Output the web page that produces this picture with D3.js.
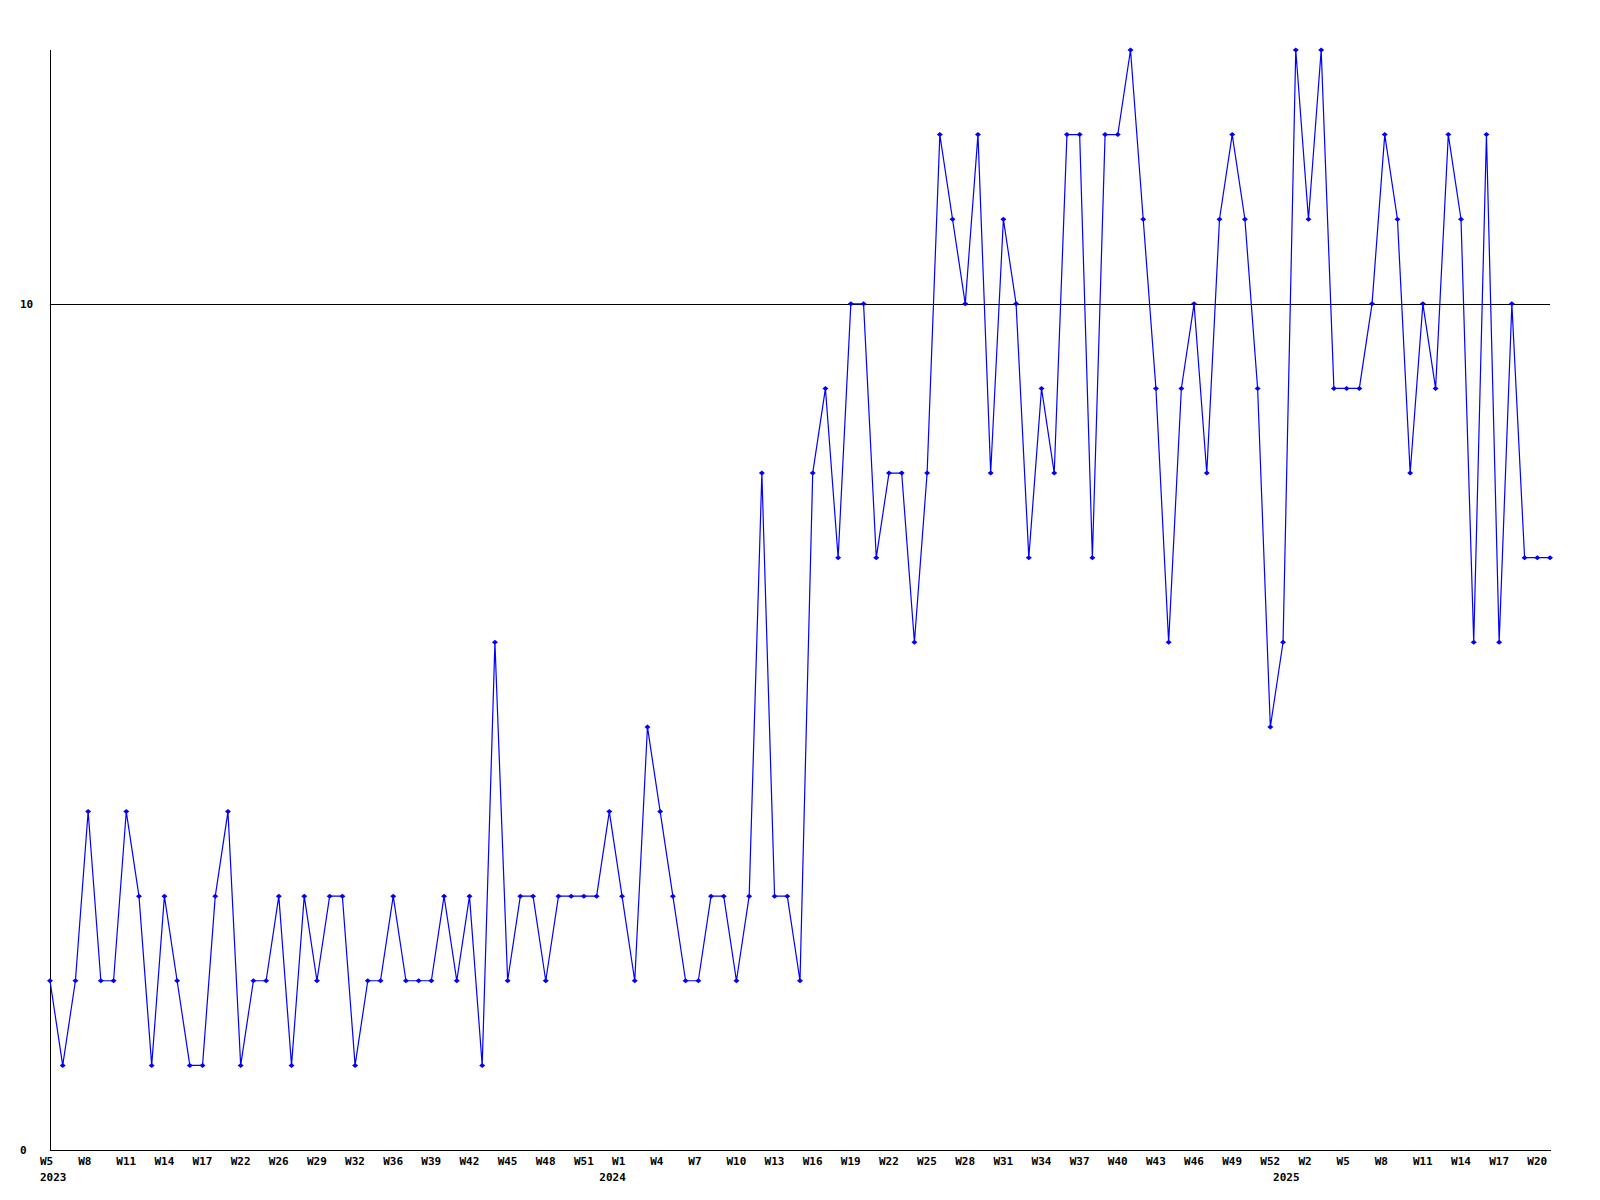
<!DOCTYPE html>
<html>
<head>
<meta charset="utf-8">
<script src="https://cdn.jsdelivr.net/npm/d3@7"></script>
<style>
  html, body { margin: 0; padding: 0; background: #fff; }
  svg { display: block; }
  text { font-family: "DejaVu Sans Mono", "Liberation Mono", monospace; font-weight: bold; font-size: 11px; fill: #000; }
</style>
</head>
<body>
<svg id="chart" width="1600" height="1200"></svg>
<script>
// ---- data ----
const values = [
  2,1,2,4,2,2,4,3,1,3,2,1,1,3,4,1,2,2,3,1,
  3,2,3,3,1,2,2,3,2,2,2,3,2,3,1,6,2,3,3,2,
  3,3,3,3,4,3,2,5,4,3,2,2,3,3,2,3,8,3,3,2,
  8,9,7,10,10,7,8,8,6,8,12,11,10,12,8,11,10,7,9,8,
  12,12,7,12,12,13,11,9,6,9,10,8,11,12,11,9,5,6,13,11,
  13,9,9,9,10,12,11,8,10,9,12,11,6,12,6,10,7,7,7
];
// labels shown under every third point
const tickLabels = [
  "W5","W8","W11","W14","W17","W22","W26","W29","W32","W36",
  "W39","W42","W45","W48","W51","W1","W4","W7","W10","W13",
  "W16","W19","W22","W25","W28","W31","W34","W37","W40","W43",
  "W46","W49","W52","W2","W5","W8","W11","W14","W17","W20"
];
const years = ["2023","2024","2025"];
const yearStartIndex = [0, 44, 97];
const yTicks = [0, 10];
const yMax = 13;

(function () {
  const svg = d3.select("#chart");
  const pl = 50, pr = 1550, pt = 50, pb = 1150;

  const idx = d3.range(values.length);
  const x = d3.scalePoint().domain(idx).range([pl, pr]);
  const y = d3.scaleLinear().domain([0, yMax]).range([pb, pt]);

  // gridline at 10
  svg.append("g").selectAll("line").data(yTicks.filter(d => d !== 0)).join("line")
    .attr("x1", pl).attr("x2", pr)
    .attr("y1", d => Math.round(y(d)) + 0.5).attr("y2", d => Math.round(y(d)) + 0.5)
    .attr("stroke", "#000").attr("stroke-width", 1).attr("shape-rendering", "crispEdges");

  // axis lines
  svg.append("line").attr("x1", pl + 0.5).attr("x2", pl + 0.5).attr("y1", pt).attr("y2", pb + 0.5)
    .attr("stroke", "#000").attr("shape-rendering", "crispEdges");
  svg.append("line").attr("x1", pl).attr("x2", pr + 1).attr("y1", pb + 0.5).attr("y2", pb + 0.5)
    .attr("stroke", "#000").attr("shape-rendering", "crispEdges");

  // y labels
  svg.append("g").selectAll("text").data(yTicks).join("text")
    .attr("x", 20).attr("y", d => y(d)).attr("dy", "0.35em")
    .text(d => d);

  // x labels (every third point)
  const tickIdx = idx.filter(i => i % 3 === 0);
  svg.append("g").selectAll("text").data(tickIdx).join("text")
    .attr("x", d => x(d) - 10).attr("y", 1165)
    .text((d, i) => tickLabels[i]);

  // year labels
  svg.append("g").selectAll("text").data(years).join("text")
    .attr("x", (d, i) => x(yearStartIndex[i]) - 10).attr("y", 1181)
    .text(d => d);

  // line
  const line = d3.line().x((d, i) => x(i)).y(d => y(d));
  svg.append("path").datum(values)
    .attr("d", line).attr("fill", "none").attr("stroke", "#0000ff").attr("stroke-width", 1.2);

  // markers
  const diamond = "M-3,0L0,-2.5L3,0L0,2.5Z";
  svg.append("g").selectAll("path").data(values).join("path")
    .attr("transform", (d, i) => `translate(${x(i)},${y(d)})`)
    .attr("d", diamond).attr("fill", "#0000ff");
})();
</script>
</body>
</html>
